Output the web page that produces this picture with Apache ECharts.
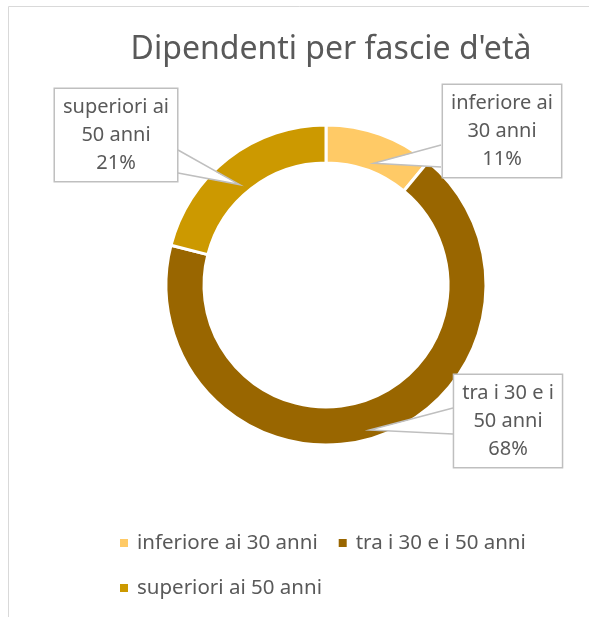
<!DOCTYPE html>
<html>
<head>
<meta charset="utf-8">
<script src="https://cdn.jsdelivr.net/npm/echarts@6/dist/echarts.min.js"></script>
<style>
  html, body { margin: 0; padding: 0; background: #fff; }
  #view { width: 589px; height: 617px; }
</style>
</head>
<body>
<div id="view"></div>
<script>
var categories = ['inferiore ai 30 anni', 'tra i 30 e i 50 anni', 'superiori ai 50 anni'];
var values = [11, 68, 21];
var colors = ['#FFCA66', '#996600', '#CC9900'];

// callout geometry: box centres, and where each pointer joins its box [x, yTop, yBottom]
var center = [326, 285];
var ringMid = 141;
var tipShift = 11;
var boxPos = [[502, 131], [508, 421], [116, 135]];
var calloutBase = [[441, 145, 167], [453, 408, 434], [178, 150, 173]];

var myChart = echarts.init(document.getElementById('view'));

var total = values.reduce(function (a, b) { return a + b; }, 0);
function tipPoint(i) {
    var cum = 0;
    for (var k = 0; k < i; k++) cum += values[k];
    var a = 2 * Math.PI * (cum + values[i] / 2) / total;
    return [center[0] + ringMid * Math.sin(a), center[1] - ringMid * Math.cos(a) + tipShift];
}

function wrapName(name) {
    var w = name.split(' ');
    return w.slice(0, w.length - 2).join(' ') + '\n' + w.slice(w.length - 2).join(' ');
}

// white pointer wedges of the callouts
var wedges = [];
values.forEach(function (v, i) {
    var tip = tipPoint(i);
    var b = calloutBase[i];
    var inward = b[0] > tip[0] ? 3 : -3;
    wedges.push({
        type: 'polygon', z: 4, silent: true,
        shape: { points: [[b[0] + inward, b[1]], tip, [b[0] + inward, b[2]]] },
        style: { fill: '#fff', stroke: null }
    });
    wedges.push({
        type: 'polyline', z: 4, silent: true,
        shape: { points: [[b[0], b[1]], tip, [b[0], b[2]]] },
        style: { fill: null, stroke: '#bfbfbf', lineWidth: 1.5 }
    });
});

var option = {
    textStyle: { fontFamily: 'Noto Sans' },
    title: {
        text: "Dipendenti per fascie d'età",
        left: 326,
        top: 29,
        textAlign: 'center',
        textStyle: { fontSize: 32, fontWeight: 'normal', color: '#595959', fontFamily: 'Noto Sans' }
    },
    legend: {
        left: 118,
        top: 530,
        width: 430,
        padding: 0,
        itemGap: 19,
        itemWidth: 10,
        itemHeight: 10,
        icon: 'rect',
        textStyle: { fontSize: 20.5, color: '#595959', lineHeight: 26, padding: [0, 0, 0, 3] },
        data: categories.map(function (c, i) {
            return { name: c, itemStyle: { color: colors[i] } };
        })
    },
    graphic: [{
        type: 'rect', z: 0, silent: true,
        shape: { x: 8.5, y: 6.5, width: 700, height: 700 },
        style: { fill: 'none', stroke: '#d9d9d9', lineWidth: 1 }
    }].concat(wedges),
    series: [{
        // the ring itself
        type: 'pie',
        z: 2,
        center: center,
        radius: [122, 160],
        startAngle: 90,
        clockwise: true,
        itemStyle: { borderColor: '#fff', borderWidth: 3 },
        label: { show: false },
        labelLine: { show: false },
        emphasis: { disabled: true },
        data: categories.map(function (c, i) {
            return { name: c, value: values[i], itemStyle: { color: colors[i] } };
        })
    }, {
        // same slices, invisible, only to carry the callout boxes above the ring
        type: 'pie',
        z: 5,
        silent: true,
        center: center,
        radius: [122, 160],
        startAngle: 90,
        clockwise: true,
        avoidLabelOverlap: false,
        itemStyle: { color: 'rgba(0,0,0,0)', borderWidth: 0 },
        label: {
            show: true,
            position: 'outside',
            formatter: function (p) { return wrapName(p.name) + '\n' + p.percent.toFixed(0) + '%'; },
            fontSize: 20,
            lineHeight: 28,
            color: '#595959',
            align: 'center',
            backgroundColor: '#fff',
            borderColor: '#bfbfbf',
            borderWidth: 1.5,
            padding: [4, 8]
        },
        labelLine: { show: false },
        labelLayout: function (params) {
            var i = params.dataIndex;
            return {
                x: boxPos[i][0],
                y: boxPos[i][1],
                align: 'center',
                verticalAlign: 'middle'
            };
        },
        emphasis: { disabled: true },
        data: categories.map(function (c, i) {
            return { name: c, value: values[i] };
        })
    }]
};

myChart.setOption(option);
</script>
</body>
</html>
